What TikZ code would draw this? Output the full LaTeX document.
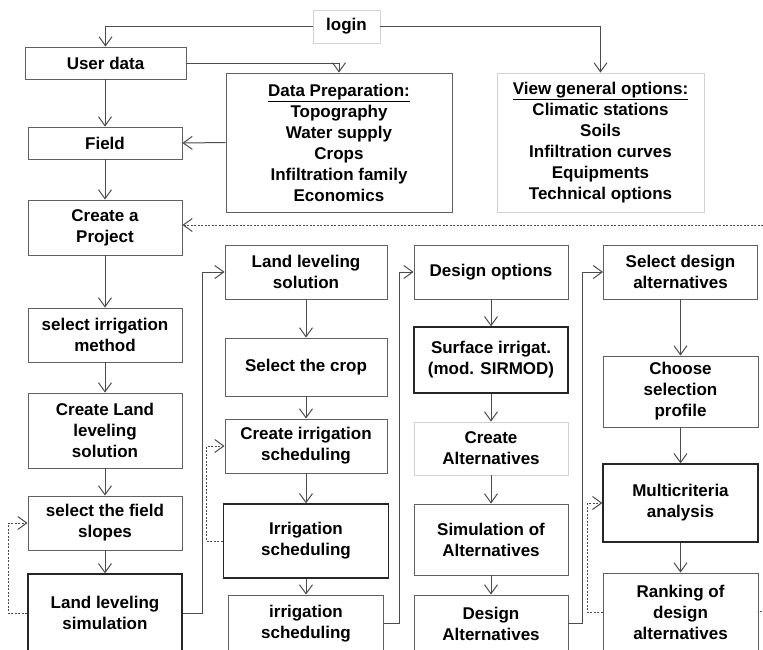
\documentclass[tikz,border=0pt]{standalone}
\usepackage{fontspec}
\setmainfont{Liberation Sans}
\usetikzlibrary{arrows.meta}
\begin{document}
\begin{tikzpicture}[x=1pt,y=-1pt,
    box/.style={draw=gray!75!black,line width=0.9pt,align=center,inner sep=0pt,
                font=\fontsize{17}{21}\selectfont\bfseries},
    heavybox/.style={box,draw=black!85,line width=1.3pt},
    lightbox/.style={box,draw=gray!35},
    link/.style={draw=black!70,line width=1pt,-{Straight Barb[length=9pt,width=13pt]}},
    back/.style={link,dash pattern=on 2pt off 1.5pt}]
    \useasboundingbox (0,0) rectangle (763,649);
    \clip (0,0) rectangle (763,649);
    % top part
    \node[lightbox,minimum width=67pt,minimum height=33pt] (login) at (346.5,26.5) {login};
    \node[box,minimum width=161pt,minimum height=32pt] (userdata) at (105.5,63) {User data};
    \node[box,minimum width=226pt,minimum height=139pt] (dataprep) at (339,142.5)
          {\underline{Data Preparation:}\\Topography\\Water supply\\Crops\\Infiltration family\\Economics};
    \node[lightbox,minimum width=207pt,minimum height=139pt] (viewopt) at (600.5,142.5)
          {\underline{View general options:}\\Climatic stations\\Soils\\Infiltration curves\\Equipments\\Technical options};
    \node[box,minimum width=154pt,minimum height=32pt] (field) at (105,143) {Field};
    \node[box,minimum width=154pt,minimum height=55pt] (project) at (105,227.5) {Create a\\Project};
    % first column
    \node[box,minimum width=154pt,minimum height=54pt] (method) at (105,335) {select irrigation\\method};
    \node[box,minimum width=154pt,minimum height=75pt] (creatells) at (105,430.5) {Create Land\\leveling\\solution};
    \node[box,minimum width=154pt,minimum height=54pt] (slopes) at (105,523) {select the field\\slopes};
    \node[heavybox,minimum width=154pt,minimum height=78pt] (llsim) at (105,613) {Land leveling\\simulation};
    % second column
    \node[box,minimum width=162pt,minimum height=54pt] (llsol) at (306,272) {Land leveling\\solution};
    \node[box,minimum width=162pt,minimum height=58pt] (crop) at (306,367) {Select the crop};
    \node[box,minimum width=162pt,minimum height=54pt] (cis) at (306,446) {Create irrigation\\scheduling};
    \node[heavybox,minimum width=165pt,minimum height=74pt] (isched) at (306,541) {Irrigation\\scheduling};
    \node[box,minimum width=155pt,minimum height=57pt] (isched2) at (306,623.5) {irrigation\\scheduling};
    % third column
    \node[box,minimum width=154pt,minimum height=54pt] (designopt) at (491,272) {Design options};
    \node[heavybox,minimum width=154pt,minimum height=66pt] (surface) at (491,360) {Surface irrigat.\\(mod. SIRMOD)};
    \node[lightbox,minimum width=154pt,minimum height=53pt] (createalt) at (491,448.5) {Create\\Alternatives};
    \node[box,minimum width=154pt,minimum height=71pt] (simalt) at (491,539.5) {Simulation of\\Alternatives};
    \node[box,minimum width=154pt,minimum height=57pt] (designalt) at (491,623.5) {Design\\Alternatives};
    % fourth column
    \node[box,minimum width=154pt,minimum height=54pt] (selalt) at (680.5,272) {Select design\\alternatives};
    \node[box,minimum width=155pt,minimum height=71pt] (profile) at (680.5,391.5) {Choose\\selection\\profile};
    \node[heavybox,minimum width=155pt,minimum height=78pt] (multi) at (680.5,503) {Multicriteria\\analysis};
    \node[box,minimum width=155pt,minimum height=79pt] (ranking) at (680.5,612.5) {Ranking of\\design\\alternatives};
    \coordinate (projin) at (763,225);
    \coordinate (rankout) at (763,611);

    \draw[link] (login.west) -| (userdata.north);
    \draw[link] (login.east) -| (viewopt.north);
    \draw[link] (userdata.east) -| (dataprep.north);
    \draw[link] (dataprep.west) -- (field.east);
    \draw[link] (userdata.south -| field.north) -- (field.north);
    \draw[link] (field) -- (project);
    \draw[back] (projin) -- (projin -| project.east);
    \draw[link] (project) -- (method);
    \draw[link] (method) -- (creatells);
    \draw[link] (creatells) -- (slopes);
    \draw[link] (slopes) -- (llsim);
    \draw[back] (llsim.west) -- ++(-19,0) |- (slopes.west);
    \draw[link] (llsim.east) -- ++(20,0) |- (llsol.west);
    \draw[link] (llsol) -- (crop);
    \draw[link] (crop) -- (cis);
    \draw[link] (cis) -- (isched);
    \draw[link] (isched) -- (isched2);
    \draw[back] (isched.west) -- ++(-16,0) |- (cis.west);
    \draw[link] (isched2.east) -- ++(16,0) |- (designopt.west);
    \draw[link] (designopt) -- (surface);
    \draw[link] (surface) -- (createalt);
    \draw[link] (createalt) -- (simalt);
    \draw[link] (simalt) -- (designalt);
    \draw[link] (designalt.east) -- ++(14,0) |- (selalt.west);
    \draw[link] (selalt) -- (profile);
    \draw[link] (profile) -- (multi);
    \draw[link] (multi) -- (ranking);
    \draw[back] (ranking.west) -- ++(-15,0) |- (multi.west);
    \draw[back,-] (ranking.east) -- (rankout -| ranking.east) -- (rankout);
\end{tikzpicture}
\end{document}
